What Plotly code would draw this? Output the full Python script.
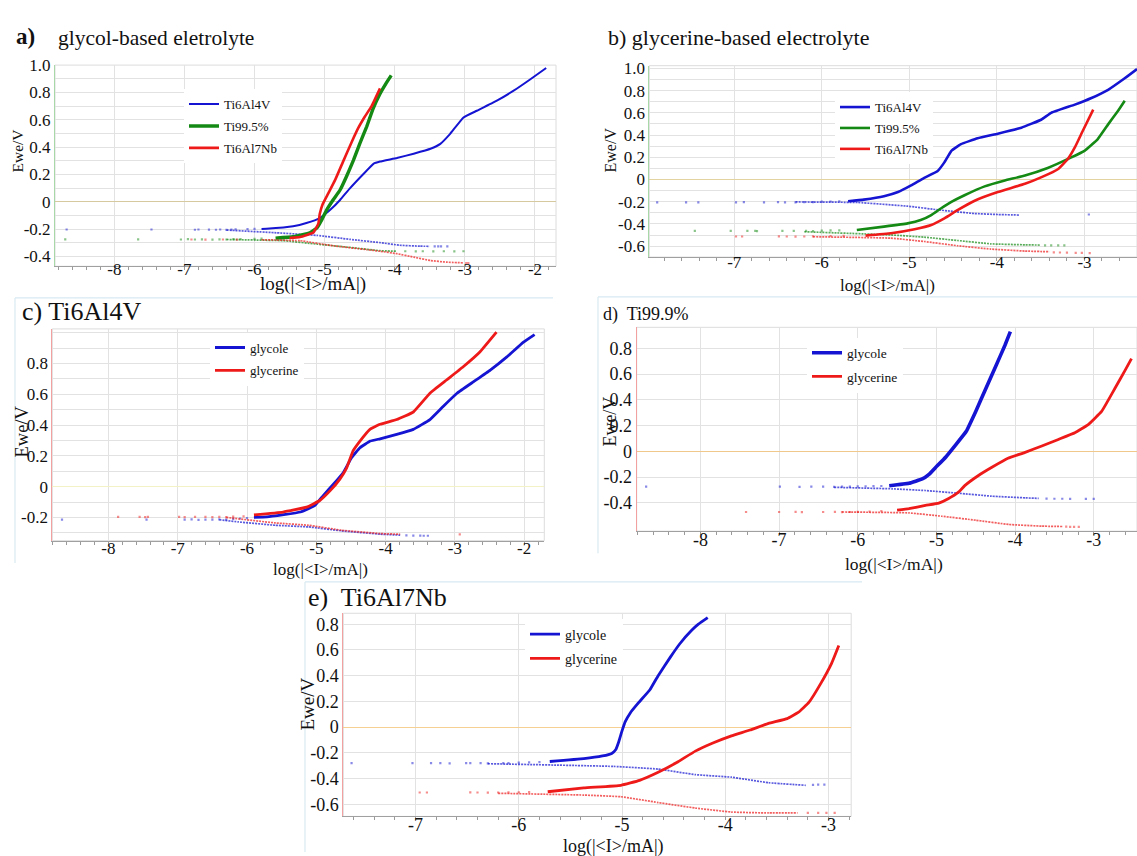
import plotly.graph_objects as go

W, H = 1137, 856

# ================= DATA =================
# ---- panel a) glycol-based electrolyte ----
A_TI64_ANO_X = [-5.9, -5.83, -5.45, -5.26, -5.07, -4.92, -4.78, -4.64, -4.44, -4.30, -4.21, -3.97, -3.73, -3.49, -3.35, -3.21, -3.02, -2.83, -2.55, -2.31, -2.07, -1.84]
A_TI64_ANO_Y = [-0.2, -0.198, -0.179, -0.155, -0.119, -0.059, 0.013, 0.098, 0.207, 0.279, 0.294, 0.32, 0.352, 0.388, 0.424, 0.497, 0.617, 0.666, 0.738, 0.811, 0.895, 0.979]
A_TI64_CAT_X = [-6.4, -5.69, -5.11, -4.64, -4.21, -3.93, -3.64, -3.5]
A_TI64_CAT_Y = [-0.207, -0.227, -0.246, -0.275, -0.299, -0.318, -0.325, -0.326]
A_TI64_PTS_X = [-8.68, -7.47, -6.85, -6.8, -6.65, -6.55, -6.49, -6.4, -6.33, -6.27, -6.1, -6.0, -3.43, -3.38, -3.34, -3.25]
A_TI64_PTS_Y = [-0.203, -0.203, -0.205, -0.203, -0.204, -0.205, -0.203, -0.206, -0.204, -0.202, -0.2, -0.199, -0.326, -0.327, -0.326, -0.327]

A_TI995_ANO_X = [-5.7, -5.45, -5.21, -5.11, -5.04, -4.97, -4.88, -4.78, -4.69, -4.59, -4.50, -4.40, -4.31, -4.21, -4.12, -4.05]
A_TI995_ANO_Y = [-0.266, -0.256, -0.227, -0.191, -0.131, -0.059, 0.013, 0.086, 0.183, 0.303, 0.424, 0.55, 0.68, 0.79, 0.87, 0.925]
A_TI995_CAT_X = [-6.4, -5.59, -5.11, -4.64, -4.21, -3.97]
A_TI995_CAT_Y = [-0.276, -0.285, -0.31, -0.334, -0.358, -0.362]
A_TI995_PTS_X = [-8.70, -7.66, -7.05, -6.95, -6.85, -6.75, -6.6, -6.5, -6.4, -6.3, -6.2, -6.0, -5.9, -3.85, -3.7, -3.6, -3.45, -3.3, -3.15, -3.02]
A_TI995_PTS_Y = [-0.275, -0.275, -0.276, -0.274, -0.276, -0.275, -0.277, -0.275, -0.276, -0.274, -0.273, -0.272, -0.27, -0.362, -0.363, -0.362, -0.363, -0.362, -0.363, -0.362]

A_TI67_ANO_X = [-5.5, -5.35, -5.16, -5.09, -5.07, -5.03, -4.95, -4.85, -4.74, -4.62, -4.52, -4.43, -4.33, -4.21]
A_TI67_ANO_Y = [-0.265, -0.258, -0.225, -0.16, -0.09, -0.02, 0.06, 0.16, 0.29, 0.43, 0.54, 0.62, 0.70, 0.83]
A_TI67_CAT_X = [-5.9, -5.35, -4.88, -4.40, -4.21, -3.97, -3.73, -3.49, -3.26, -3.02]
A_TI67_CAT_Y = [-0.278, -0.285, -0.322, -0.35, -0.362, -0.38, -0.405, -0.43, -0.442, -0.447]
A_TI67_PTS_X = [-6.9, -6.7, -6.45, -6.25, -2.98, -2.95]
A_TI67_PTS_Y = [-0.276, -0.277, -0.276, -0.277, -0.448, -0.448]

A_XTICKS = [-8, -7, -6, -5, -4, -3, -2]
A_XLABELS = ["-8", "-7", "-6", "-5", "-4", "-3", "-2"]
A_YTICKS = [1.0, 0.8, 0.6, 0.4, 0.2, 0.0, -0.2, -0.4]
A_YLABELS = ["1.0", "0.8", "0.6", "0.4", "0.2", "0", "-0.2", "-0.4"]

# ---- panel b) glycerine-based electrolyte ----
B_TI64_ANO_X = [-5.7, -5.52, -5.29, -5.13, -4.98, -4.83, -4.68, -4.60, -4.52, -4.41, -4.22, -3.99, -3.72, -3.49, -3.38, -3.11, -2.92, -2.73, -2.54, -2.40]
B_TI64_ANO_Y = [-0.196, -0.181, -0.151, -0.113, -0.053, 0.015, 0.074, 0.154, 0.258, 0.318, 0.371, 0.412, 0.466, 0.54, 0.60, 0.674, 0.733, 0.807, 0.911, 0.994]
B_TI64_CAT_X = [-6.3, -5.59, -5.02, -4.64, -4.26, -3.99, -3.74]
B_TI64_CAT_Y = [-0.202, -0.207, -0.24, -0.276, -0.306, -0.315, -0.32]
B_TI64_PTS_X = [-7.88, -7.55, -7.41, -6.98, -6.89, -6.66, -6.5, -6.42, -6.3, -6.2, -6.1, -6.0, -5.9, -5.8, -2.95]
B_TI64_PTS_Y = [-0.205, -0.205, -0.205, -0.205, -0.204, -0.205, -0.204, -0.206, -0.205, -0.204, -0.203, -0.2, -0.198, -0.197, -0.315]

B_TI995_ANO_X = [-5.6, -5.29, -5.02, -4.87, -4.75, -4.64, -4.52, -4.37, -4.14, -3.91, -3.68, -3.42, -3.15, -3.0, -2.85, -2.73, -2.62, -2.54]
B_TI995_ANO_Y = [-0.455, -0.424, -0.395, -0.365, -0.32, -0.261, -0.202, -0.142, -0.062, -0.009, 0.036, 0.104, 0.199, 0.258, 0.362, 0.496, 0.614, 0.709]
B_TI995_CAT_X = [-6.2, -5.21, -4.83, -4.45, -4.07, -3.68, -3.5]
B_TI995_CAT_Y = [-0.47, -0.499, -0.519, -0.549, -0.579, -0.588, -0.59]
B_TI995_PTS_X = [-7.45, -7.04, -6.85, -6.76, -6.74, -6.45, -6.32, -6.18, -6.1, -6.0, -5.9, -5.8, -3.45, -3.38, -3.3, -3.23]
B_TI995_PTS_Y = [-0.463, -0.463, -0.462, -0.463, -0.464, -0.463, -0.462, -0.463, -0.464, -0.46, -0.458, -0.457, -0.592, -0.593, -0.593, -0.593]

B_TI67_ANO_X = [-5.5, -5.21, -4.94, -4.75, -4.60, -4.45, -4.26, -3.99, -3.68, -3.49, -3.30, -3.19, -3.11, -3.02, -2.90]
B_TI67_ANO_Y = [-0.505, -0.484, -0.448, -0.41, -0.35, -0.276, -0.193, -0.113, -0.039, 0.021, 0.095, 0.184, 0.288, 0.436, 0.629]
B_TI67_CAT_X = [-6.1, -5.21, -4.83, -4.45, -4.07, -3.68, -3.4]
B_TI67_CAT_Y = [-0.515, -0.528, -0.558, -0.596, -0.626, -0.644, -0.65]
B_TI67_PTS_X = [-6.98, -6.91, -6.49, -6.4, -6.3, -6.2, -6.1, -5.9, -5.75, -3.35, -3.28, -3.2, -3.1, -3.03, -2.94]
B_TI67_PTS_Y = [-0.513, -0.513, -0.512, -0.513, -0.514, -0.513, -0.512, -0.51, -0.508, -0.655, -0.657, -0.658, -0.66, -0.661, -0.662]

B_XTICKS = [-7, -6, -5, -4, -3]
B_XLABELS = ["-7", "-6", "-5", "-4", "-3"]
B_YTICKS = [1.0, 0.8, 0.6, 0.4, 0.2, 0.0, -0.2, -0.4, -0.6]
B_YLABELS = ["1.0", "0.8", "0.6", "0.4", "0.2", "0", "-0.2", "-0.4", "-0.6"]

# ---- panel c) Ti6Al4V ----
C_GLY_ANO_X = [-5.9, -5.71, -5.23, -5.02, -4.90, -4.75, -4.61, -4.49, -4.37, -4.22, -4.08, -3.84, -3.60, -3.36, -3.17, -2.97, -2.73, -2.49, -2.25, -2.01, -1.85]
C_GLY_ANO_Y = [-0.2, -0.197, -0.165, -0.122, -0.058, 0.017, 0.092, 0.189, 0.253, 0.296, 0.311, 0.339, 0.372, 0.436, 0.521, 0.607, 0.682, 0.757, 0.843, 0.939, 0.988]
C_GLY_CAT_X = [-6.4, -6.13, -5.59, -5.11, -4.64, -4.08, -3.79]
C_GLY_CAT_Y = [-0.215, -0.229, -0.251, -0.262, -0.287, -0.309, -0.315]
C_GLY_PTS_X = [-8.67, -7.45, -6.9, -6.8, -6.7, -6.6, -6.5, -6.4, -6.3, -6.2, -6.1, -6.0, -3.7, -3.6, -3.5, -3.45, -3.39]
C_GLY_PTS_Y = [-0.214, -0.214, -0.215, -0.213, -0.216, -0.214, -0.215, -0.213, -0.215, -0.21, -0.207, -0.205, -0.317, -0.318, -0.318, -0.319, -0.319]

C_GLC_ANO_X = [-5.9, -5.48, -5.14, -4.95, -4.80, -4.66, -4.56, -4.47, -4.37, -4.23, -4.08, -3.84, -3.60, -3.36, -3.12, -2.88, -2.64, -2.40]
C_GLC_ANO_Y = [-0.184, -0.165, -0.133, -0.09, -0.026, 0.049, 0.124, 0.232, 0.296, 0.371, 0.405, 0.436, 0.485, 0.607, 0.693, 0.779, 0.875, 1.004]
C_GLC_CAT_X = [-6.3, -5.59, -5.11, -4.64, -4.08, -3.79]
C_GLC_CAT_Y = [-0.2, -0.236, -0.251, -0.283, -0.305, -0.309]
C_GLC_PTS_X = [-7.86, -7.55, -7.47, -7.43, -6.98, -6.9, -6.75, -6.6, -6.5, -6.4, -6.3, -6.2, -6.05, -2.93]
C_GLC_PTS_Y = [-0.197, -0.197, -0.198, -0.196, -0.197, -0.198, -0.197, -0.196, -0.198, -0.197, -0.198, -0.195, -0.193, -0.31]

C_XTICKS = [-8, -7, -6, -5, -4, -3, -2]
C_XLABELS = ["-8", "-7", "-6", "-5", "-4", "-3", "-2"]
C_YTICKS = [0.8, 0.6, 0.4, 0.2, 0.0, -0.2]
C_YLABELS = ["0.8", "0.6", "0.4", "0.2", "0", "-0.2"]

# ---- panel d) Ti99.9% ----
D_GLY_ANO_X = [-5.6, -5.35, -5.18, -5.09, -5.01, -4.88, -4.75, -4.62, -4.50, -4.37, -4.24, -4.13, -4.06]
D_GLY_ANO_Y = [-0.268, -0.249, -0.215, -0.177, -0.126, -0.044, 0.054, 0.156, 0.31, 0.49, 0.669, 0.823, 0.931]
D_GLY_CAT_X = [-6.3, -5.56, -5.14, -4.72, -4.30, -3.87, -3.7]
D_GLY_CAT_Y = [-0.28, -0.292, -0.305, -0.326, -0.349, -0.362, -0.366]
D_GLY_PTS_X = [-8.69, -6.99, -6.74, -6.59, -6.44, -6.3, -6.2, -6.1, -6.0, -5.9, -5.8, -5.7, -3.6, -3.5, -3.4, -3.3, -3.1, -3.0]
D_GLY_PTS_Y = [-0.275, -0.275, -0.276, -0.274, -0.275, -0.276, -0.275, -0.274, -0.273, -0.272, -0.271, -0.27, -0.368, -0.369, -0.369, -0.37, -0.37, -0.37]

D_GLC_ANO_X = [-5.5, -5.35, -5.14, -4.97, -4.85, -4.72, -4.64, -4.47, -4.30, -4.09, -3.88, -3.66, -3.45, -3.24, -3.07, -2.90, -2.73, -2.60, -2.52]
D_GLC_ANO_Y = [-0.458, -0.446, -0.421, -0.403, -0.369, -0.318, -0.267, -0.19, -0.126, -0.054, -0.01, 0.041, 0.092, 0.144, 0.208, 0.31, 0.49, 0.631, 0.72]
D_GLC_CAT_X = [-6.2, -5.35, -4.93, -4.50, -4.08, -3.66, -3.4]
D_GLC_CAT_Y = [-0.472, -0.479, -0.505, -0.536, -0.569, -0.582, -0.585]
D_GLC_PTS_X = [-7.42, -7.0, -6.79, -6.71, -6.44, -6.29, -6.2, -6.1, -6.0, -5.85, -5.7, -3.35, -3.3, -3.25, -3.19]
D_GLC_PTS_Y = [-0.472, -0.472, -0.471, -0.473, -0.472, -0.471, -0.473, -0.472, -0.471, -0.468, -0.465, -0.586, -0.587, -0.587, -0.587]

D_XTICKS = [-8, -7, -6, -5, -4, -3]
D_XLABELS = ["-8", "-7", "-6", "-5", "-4", "-3"]
D_YTICKS = [0.8, 0.6, 0.4, 0.2, 0.0, -0.2, -0.4]
D_YLABELS = ["0.8", "0.6", "0.4", "0.2", "0", "-0.2", "-0.4"]

# ---- panel e) Ti6Al7Nb ----
E_GLY_ANO_X = [-5.7, -5.37, -5.19, -5.10, -5.06, -5.03, -5.00, -4.97, -4.92, -4.85, -4.73, -4.65, -4.53, -4.44, -4.33, -4.26, -4.17]
E_GLY_ANO_Y = [-0.268, -0.246, -0.225, -0.205, -0.175, -0.11, -0.03, 0.04, 0.11, 0.18, 0.29, 0.40, 0.546, 0.648, 0.749, 0.80, 0.851]
E_GLY_CAT_X = [-6.3, -5.08, -4.65, -4.29, -3.94, -3.58, -3.22]
E_GLY_CAT_Y = [-0.285, -0.306, -0.327, -0.37, -0.39, -0.433, -0.453]
E_GLY_PTS_X = [-7.62, -7.03, -6.85, -6.76, -6.67, -6.51, -6.47, -6.37, -6.30, -6.15, -6.1, -6.0, -5.9, -5.8, -3.15, -3.1, -3.04]
E_GLY_PTS_Y = [-0.281, -0.281, -0.28, -0.281, -0.282, -0.281, -0.28, -0.281, -0.282, -0.281, -0.28, -0.277, -0.275, -0.272, -0.449, -0.448, -0.448]

E_GLC_ANO_X = [-5.72, -5.37, -5.01, -4.83, -4.65, -4.47, -4.29, -4.12, -3.94, -3.76, -3.58, -3.40, -3.29, -3.19, -3.08, -2.97, -2.90]
E_GLC_ANO_Y = [-0.503, -0.473, -0.453, -0.415, -0.352, -0.276, -0.187, -0.124, -0.068, -0.023, 0.028, 0.066, 0.116, 0.192, 0.332, 0.496, 0.635]
E_GLC_CAT_X = [-6.2, -5.37, -5.01, -4.65, -4.29, -3.94, -3.58, -3.3]
E_GLC_CAT_Y = [-0.515, -0.529, -0.542, -0.587, -0.63, -0.661, -0.668, -0.668]
E_GLC_PTS_X = [-6.96, -6.89, -6.47, -6.4, -6.3, -6.2, -6.1, -6.0, -5.9, -3.2, -3.1, -3.02, -2.94]
E_GLC_PTS_Y = [-0.509, -0.509, -0.508, -0.509, -0.51, -0.509, -0.508, -0.507, -0.505, -0.668, -0.668, -0.668, -0.668]

E_XTICKS = [-7, -6, -5, -4, -3]
E_XLABELS = ["-7", "-6", "-5", "-4", "-3"]
E_YTICKS = [0.8, 0.6, 0.4, 0.2, 0.0, -0.2, -0.4, -0.6]
E_YLABELS = ["0.8", "0.6", "0.4", "0.2", "0", "-0.2", "-0.4", "-0.6"]

# ================= STYLE =================
FONT = "Liberation Serif, Times New Roman, Times, DejaVu Serif, serif"
BLUE = "#1414d2"
GREEN = "#148a14"
RED = "#ee1a1a"
GRID = "#e2e2e2"

fig = go.Figure()


def px_x(x):
    return x / W


def px_y(y):
    return 1 - y / H


def add_curve(ax, legend, name, color, ano_x, ano_y, cat_x, cat_y, pts_x, pts_y, width):
    xa = "x" if ax == 1 else "x%d" % ax
    ya = "y" if ax == 1 else "y%d" % ax
    fig.add_trace(go.Scatter(x=pts_x, y=pts_y, mode="markers", xaxis=xa, yaxis=ya,
                             marker=dict(size=2.2, color=color, opacity=0.5, symbol="square"),
                             showlegend=False, hoverinfo="skip"))
    fig.add_trace(go.Scatter(x=cat_x, y=cat_y, mode="lines", xaxis=xa, yaxis=ya, opacity=0.7,
                             line=dict(color=color, width=1.7, dash="2px,1px", shape="spline", smoothing=0.3),
                             showlegend=False, hoverinfo="skip"))
    fig.add_trace(go.Scatter(x=ano_x, y=ano_y, mode="lines", xaxis=xa, yaxis=ya, name=name,
                             line=dict(color=color, width=width, shape="spline", smoothing=0.3),
                             legend=legend, legendgroup=legend + name, showlegend=True))


add_curve(1, "legend", "Ti6Al4V", BLUE, A_TI64_ANO_X, A_TI64_ANO_Y, A_TI64_CAT_X, A_TI64_CAT_Y, A_TI64_PTS_X, A_TI64_PTS_Y, 2.0)
add_curve(1, "legend", "Ti99.5%", GREEN, A_TI995_ANO_X, A_TI995_ANO_Y, A_TI995_CAT_X, A_TI995_CAT_Y, A_TI995_PTS_X, A_TI995_PTS_Y, 3.4)
add_curve(1, "legend", "Ti6Al7Nb", RED, A_TI67_ANO_X, A_TI67_ANO_Y, A_TI67_CAT_X, A_TI67_CAT_Y, A_TI67_PTS_X, A_TI67_PTS_Y, 2.6)
add_curve(2, "legend2", "Ti6Al4V", BLUE, B_TI64_ANO_X, B_TI64_ANO_Y, B_TI64_CAT_X, B_TI64_CAT_Y, B_TI64_PTS_X, B_TI64_PTS_Y, 2.6)
add_curve(2, "legend2", "Ti99.5%", GREEN, B_TI995_ANO_X, B_TI995_ANO_Y, B_TI995_CAT_X, B_TI995_CAT_Y, B_TI995_PTS_X, B_TI995_PTS_Y, 2.6)
add_curve(2, "legend2", "Ti6Al7Nb", RED, B_TI67_ANO_X, B_TI67_ANO_Y, B_TI67_CAT_X, B_TI67_CAT_Y, B_TI67_PTS_X, B_TI67_PTS_Y, 2.6)
add_curve(3, "legend3", "glycole", BLUE, C_GLY_ANO_X, C_GLY_ANO_Y, C_GLY_CAT_X, C_GLY_CAT_Y, C_GLY_PTS_X, C_GLY_PTS_Y, 2.8)
add_curve(3, "legend3", "glycerine", RED, C_GLC_ANO_X, C_GLC_ANO_Y, C_GLC_CAT_X, C_GLC_CAT_Y, C_GLC_PTS_X, C_GLC_PTS_Y, 2.8)
add_curve(4, "legend4", "glycole", BLUE, D_GLY_ANO_X, D_GLY_ANO_Y, D_GLY_CAT_X, D_GLY_CAT_Y, D_GLY_PTS_X, D_GLY_PTS_Y, 3.6)
add_curve(4, "legend4", "glycerine", RED, D_GLC_ANO_X, D_GLC_ANO_Y, D_GLC_CAT_X, D_GLC_CAT_Y, D_GLC_PTS_X, D_GLC_PTS_Y, 2.8)
add_curve(5, "legend5", "glycole", BLUE, E_GLY_ANO_X, E_GLY_ANO_Y, E_GLY_CAT_X, E_GLY_CAT_Y, E_GLY_PTS_X, E_GLY_PTS_Y, 2.8)
add_curve(5, "legend5", "glycerine", RED, E_GLC_ANO_X, E_GLC_ANO_Y, E_GLC_CAT_X, E_GLC_CAT_Y, E_GLC_PTS_X, E_GLC_PTS_Y, 2.8)

# ================= AXES =================
panels = [
    (1, (55, 556, 56.7, 260), [-8.846, -1.70], [-0.472, 1.0], A_XTICKS, A_XLABELS, A_YTICKS, A_YLABELS, "#a8d8a8", "#d6c9a0", True, 17, -13),
    (2, (649.3, 1137, 57.3, 250.7), [-7.97, -2.40], [-0.698, 1.024], B_XTICKS, B_XLABELS, B_YTICKS, B_YLABELS, "#a8d8a8", "#e3d3a0", True, 17, -10),
    (3, (52.3, 544.3, 323.3, 537.3), [-8.81, -1.71], [-0.351, 1.025], C_XTICKS, C_XLABELS, C_YTICKS, C_YLABELS, "#f2a0a0", "#f3f1c6", True, 17, -8),
    (4, (636.7, 1137, 321.7, 527.7), [-8.81, -2.45], [-0.621, 0.964], D_XTICKS, D_XLABELS, D_YTICKS, D_YLABELS, "#f2a0a0", "#f0c88c", False, 18, -8),
    (5, (343.3, 851.2, 610.7, 816), [-7.70, -2.78], [-0.695, 0.885], E_XTICKS, E_XLABELS, E_YTICKS, E_YLABELS, "#f2a0a0", "#f6cf92", False, 18, -8),
]

layout_axes = {}
shapes = []
for (i, (l, r, t, b), xr, yr, xt, xl, yt, yl, ycol, zcol, yminor, tsize, xso) in panels:
    sfx = "" if i == 1 else str(i)
    layout_axes["xaxis" + sfx] = dict(
        domain=[px_x(l), px_x(r)], range=xr, anchor="y" + sfx,
        tickmode="array", tickvals=xt, ticktext=xl,
        showgrid=True, gridcolor=GRID, gridwidth=1, zeroline=False,
        showline=True, linecolor="#a0a0a0", linewidth=1, ticks="",
        ticklabelstandoff=xso,
        tickfont=dict(family=FONT, size=tsize, color="#111"),
        minor=dict(ticks="outside", ticklen=3, tickcolor="#9a9a9a", tick0=0, dtick=0.2, showgrid=False),
        fixedrange=True,
    )
    ydict = dict(
        domain=[px_y(b), px_y(t)], range=yr, anchor="x" + sfx,
        tickmode="array", tickvals=yt, ticktext=yl,
        showgrid=True, gridcolor=GRID, gridwidth=1,
        zeroline=True, zerolinecolor=zcol, zerolinewidth=1.2,
        showline=True, linecolor=ycol, linewidth=1, ticks="",
        tickfont=dict(family=FONT, size=tsize, color="#111"),
        fixedrange=True,
    )
    if yminor:
        ydict["minor"] = dict(tick0=0, dtick=0.1, showgrid=True, gridcolor=GRID, gridwidth=1, ticks="")
    layout_axes["yaxis" + sfx] = ydict
    shapes.append(dict(type="rect", xref="x%s domain" % sfx, yref="y%s domain" % sfx,
                       x0=0, x1=1, y0=0, y1=1, line=dict(color="#dcdcdc", width=1), layer="below"))

FRAME = "#d8e9f2"
for (x0, y0, x1, y1) in [(15, 292, 553, 292), (15, 292, 15, 560),
                         (598, 291, 1137, 291), (598, 291, 598, 550),
                         (305, 579, 862, 579), (305, 579, 305, 852)]:
    shapes.append(dict(type="line", xref="paper", yref="paper", x0=px_x(x0), x1=px_x(x1),
                       y0=px_y(y0), y1=px_y(y1), line=dict(color=FRAME, width=1.2)))

# ================= TEXT =================
ann = []


def text(s, x, y, size, xanchor="left", angle=0, bold=False):
    ann.append(dict(text=("<b>%s</b>" % s) if bold else s, x=px_x(x), y=px_y(y), xref="paper", yref="paper",
                    showarrow=False, xanchor=xanchor, yanchor="middle", textangle=angle,
                    font=dict(family=FONT, size=size, color="#111")))


XT = "log(|&lt;I&gt;/mA|)"
text("a)", 14, 28, 23, bold=True)
text("glycol-based eletrolyte", 56, 29, 21.5)
text("b) glycerine-based electrolyte", 606, 29, 22)
text("c) Ti6Al4V", 20, 306, 26)
text("d)\u00a0 Ti99.9%", 601, 309, 18)
text("e)\u00a0 Ti6Al7Nb", 306, 595, 26)

text(XT, 313, 278, 19, xanchor="center")
text(XT, 887, 279, 17, xanchor="center")
text(XT, 320, 566, 17, xanchor="center")
text(XT, 894, 561, 17.5, xanchor="center")
text(XT, 613, 846, 18, xanchor="center")

text("Ewe/V", 17, 143, 15.5, xanchor="center", angle=-90)
text("Ewe/V", 610, 143, 16, xanchor="center", angle=-90)
text("Ewe/V", 22, 427, 18.5, xanchor="center", angle=-90)
text("Ewe/V", 610, 417, 18, xanchor="center", angle=-90)
text("Ewe/V", 308, 703, 19, xanchor="center", angle=-90)


def leg(x, y, size, gap=3):
    return dict(x=px_x(x), y=px_y(y), xref="paper", yref="paper", xanchor="left", yanchor="top",
                bgcolor="rgba(255,255,255,1)", borderwidth=0, tracegroupgap=gap,
                itemwidth=30, font=dict(family=FONT, size=size, color="#111"), itemclick=False)


fig.update_layout(
    width=W, height=H, autosize=False,
    margin=dict(l=0, r=0, t=0, b=0),
    paper_bgcolor="white", plot_bgcolor="white",
    font=dict(family=FONT, color="#111"),
    shapes=shapes, annotations=ann,
    legend=leg(184, 81, 13, 2),
    legend2=leg(835, 84, 13, 1),
    legend3=leg(210, 327, 13),
    legend4=leg(807, 332, 13.5),
    legend5=leg(525, 616, 14),
    **layout_axes,
)

fig.write_html("out.html", config={"displayModeBar": False},
               post_script="document.body.style.margin='0';document.body.style.overflow='hidden';")
